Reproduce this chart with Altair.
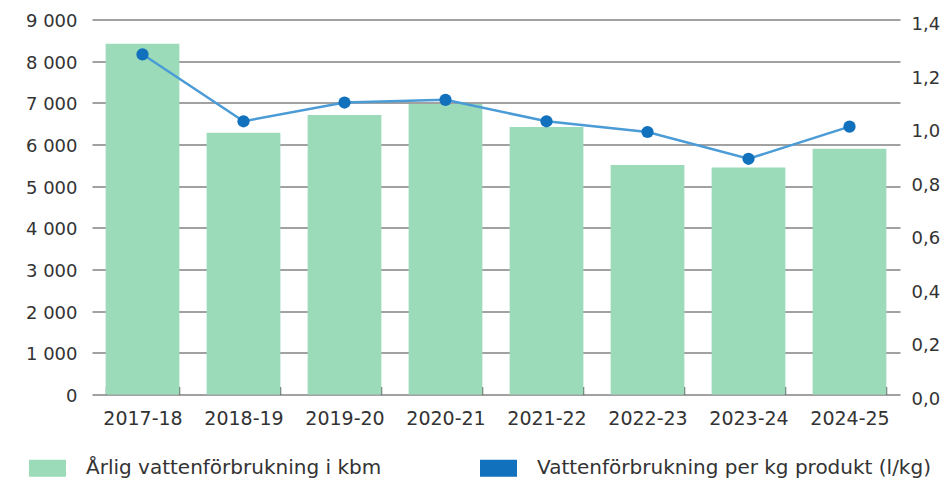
import altair as alt
import pandas as pd

years = ["2017-18", "2018-19", "2019-20", "2020-21", "2021-22", "2022-23", "2023-24", "2024-25"]
water_kbm = [8420, 6280, 6710, 6970, 6420, 5510, 5450, 5900]
water_per_kg = [1.27, 1.02, 1.09, 1.10, 1.02, 0.98, 0.88, 1.00]
bar_label = "Årlig vattenförbrukning i kbm"
line_label = "Vattenförbrukning per kg produkt (l/kg)"
left_ticks = [0, 1000, 2000, 3000, 4000, 5000, 6000, 7000, 8000, 9000]
right_ticks = [0, 0.2, 0.4, 0.6, 0.8, 1.0, 1.2, 1.4]

df = pd.DataFrame({"year": years, "kbm": water_kbm, "perkg": water_per_kg,
                   "s_bar": [bar_label] * len(years), "s_line": [line_label] * len(years)})

FONT = "DejaVu Sans"
TXT = "#333333"

x = alt.X(
    "year:N", sort=years,
    scale=alt.Scale(paddingInner=0.27, paddingOuter=0.135),
    axis=alt.Axis(title=None, labelAngle=0, domain=False, tickBand="extent",
                  tickSize=8, offset=-8, tickColor="#666666", tickWidth=1.5,
                  labelPadding=15, labelFontSize=19, labelColor=TXT, labelFont=FONT),
)

color_scale = alt.Scale(domain=[bar_label, line_label], range=["#9BDBB9", "#1271BC"])
legend = alt.Legend(title=None, orient="none", legendX=-63, legendY=430,
                    direction="horizontal",
                    symbolType="M-1,-0.46L1,-0.46L1,0.46L-1,0.46Z",
                    symbolSize=1369, symbolStrokeWidth=0, symbolOpacity=1,
                    labelFontSize=20, labelFont=FONT, labelColor=TXT,
                    labelOffset=20, columnPadding=98, labelLimit=600)

bars = alt.Chart(df).mark_bar().encode(
    x=x,
    y=alt.Y("kbm:Q", scale=alt.Scale(domain=[0, 9000], nice=False),
            axis=alt.Axis(title=None, values=left_ticks, grid=True, gridColor="#444444",
                          gridWidth=1, domain=False, ticks=False, labelPadding=15,
                          labelFontSize=18, labelColor=TXT, labelFont=FONT, labelOffset=2,
                          labelExpr="replace(format(datum.value, ','), ',', ' ')")),
    color=alt.Color("s_bar:N", scale=color_scale, legend=legend),
)

yr = alt.Y("perkg:Q", scale=alt.Scale(domain=[0, 1.4], nice=False),
           axis=alt.Axis(title=None, orient="right", values=right_ticks, grid=False, domain=False,
                         ticks=False, labelPadding=11, labelFontSize=18, labelColor=TXT,
                         labelFont=FONT, labelOffset=5,
                         labelExpr="replace(format(datum.value, '.1f'), '.', ',')"))

line = alt.Chart(df).mark_line(color="#4A9BD6", strokeWidth=2.5).encode(x=x, y=yr)
points = alt.Chart(df).mark_circle(size=150, opacity=1).encode(
    x=x, y=yr,
    color=alt.Color("s_line:N", scale=color_scale, legend=legend),
)

chart = alt.layer(bars, alt.layer(line, points)).resolve_scale(y="independent").properties(
    width=808, height=375,
    autosize=alt.AutoSizeParams(type="none"),
    padding={"left": 84, "top": 11.5, "right": 43, "bottom": 95},
).configure_view(stroke=None)

chart.save("out.html", embed_options={"renderer": "svg", "actions": False})
